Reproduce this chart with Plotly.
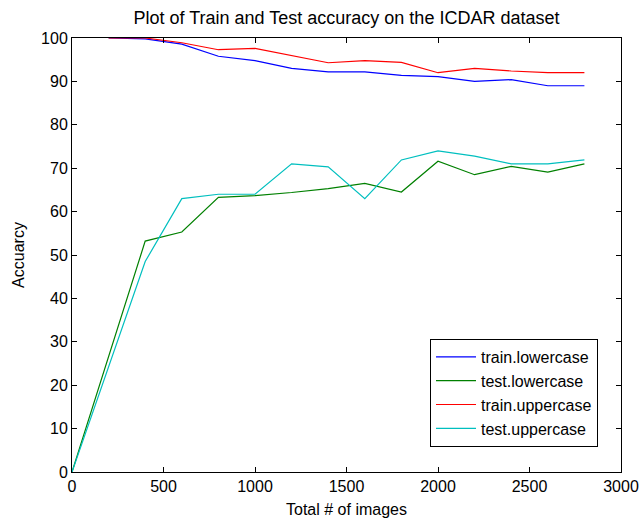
import plotly.graph_objects as go

train_x = [200, 400, 600, 800, 1000, 1200, 1400, 1600, 1800, 2000, 2200, 2400, 2600, 2800]
train_lower = [100, 99.8, 98.6, 95.8, 94.8, 93.0, 92.2, 92.2, 91.4, 91.1, 90.0, 90.4, 89.0, 89.0]
train_upper = [100, 100, 98.9, 97.3, 97.6, 95.9, 94.3, 94.8, 94.4, 92.0, 93.0, 92.4, 92.0, 92.0]

test_x = [0, 400, 600, 800, 1000, 1200, 1400, 1600, 1800, 2000, 2200, 2400, 2600, 2800]
test_lower = [0, 53.2, 55.3, 63.3, 63.7, 64.4, 65.3, 66.5, 64.5, 71.6, 68.5, 70.4, 69.1, 71.0]
test_upper = [0, 48.5, 63.0, 64.0, 64.0, 71.0, 70.3, 63.0, 71.9, 74.0, 72.8, 71.0, 71.0, 71.9]

x_ticks = [0, 500, 1000, 1500, 2000, 2500, 3000]
y_ticks = [0, 10, 20, 30, 40, 50, 60, 70, 80, 90, 100]

FONT = "Liberation Sans"

fig = go.Figure()
fig.add_trace(go.Scatter(x=train_x, y=train_lower, mode="lines", name="train.lowercase",
                         line=dict(color="#0000ff", width=1.2)))
fig.add_trace(go.Scatter(x=test_x, y=test_lower, mode="lines", name="test.lowercase",
                         line=dict(color="#008000", width=1.2)))
fig.add_trace(go.Scatter(x=train_x, y=train_upper, mode="lines", name="train.uppercase",
                         line=dict(color="#ff0000", width=1.2)))
fig.add_trace(go.Scatter(x=test_x, y=test_upper, mode="lines", name="test.uppercase",
                         line=dict(color="#00bfbf", width=1.2)))

axis_common = dict(showline=True, linecolor="black", linewidth=1, mirror="allticks",
                   ticks="inside", ticklen=5, tickcolor="black", showgrid=False, zeroline=False,
                   layer="above traces", automargin=False,
                   tickfont=dict(family=FONT, size=16, color="black"))

fig.update_layout(
    width=642, height=518,
    margin=dict(l=72, r=21, t=38, b=46),
    paper_bgcolor="white", plot_bgcolor="white",
    title=dict(text="Plot of Train and Test accuracy on the ICDAR dataset",
               x=(72 + 621) / 2 / 642, xanchor="center", y=1 - 18 / 518, yanchor="middle",
               font=dict(family=FONT, size=18, color="black")),
    xaxis=dict(range=[0, 3000], tickvals=x_ticks, ticktext=[str(v) for v in x_ticks],
               title=dict(text="Total # of images", standoff=9,
                          font=dict(family=FONT, size=16, color="black")),
               **axis_common),
    yaxis=dict(range=[0, 100], tickvals=y_ticks, ticktext=[str(v) for v in y_ticks],
               title=dict(text="Accuarcy", standoff=12,
                          font=dict(family=FONT, size=16, color="black")),
               **axis_common),
    legend=dict(x=(598 - 72) / 549, xanchor="right", y=(472 - 447) / 434, yanchor="bottom",
                bgcolor="white", bordercolor="black", borderwidth=1,
                font=dict(family=FONT, size=16, color="black"),
                tracegroupgap=0, itemwidth=40),
    showlegend=True,
)

fig.write_html("out.html")
